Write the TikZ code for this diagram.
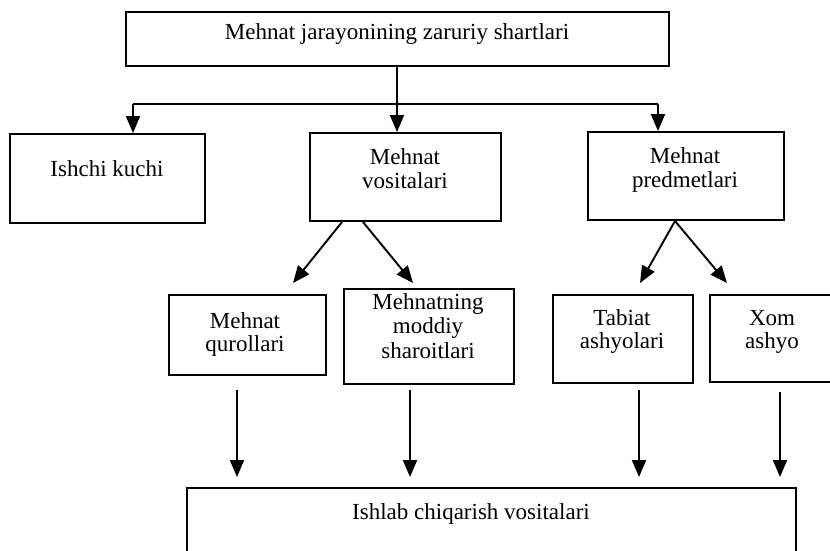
\documentclass[tikz,border=0pt]{standalone}
\usepackage{fontspec}
\setmainfont{Liberation Serif}
\usetikzlibrary{arrows.meta}
\begin{document}
\begin{tikzpicture}[x=1pt,y=-1pt,
  bx/.style={draw,line width=2pt,inner sep=0pt,anchor=north west},
  tx/.style={anchor=base,inner sep=0pt,font=\fontsize{23}{25}\selectfont},
  ln/.style={line width=1.9pt},
  arr/.style={line width=1.9pt,-{Triangle[length=17pt,width=14pt]}}]
\useasboundingbox (0,0) rectangle (830,550);
\clip (0,0) rectangle (830,550);
% boxes
\node[bx,minimum width=543pt,minimum height=54pt] (top) at (125,11) {};
\node[bx,minimum width=195pt,minimum height=89pt] (ish) at (9,133) {};
\node[bx,minimum width=191pt,minimum height=88pt] (vos) at (309,132) {};
\node[bx,minimum width=196pt,minimum height=88pt] (pred) at (587,131) {};
\node[bx,minimum width=157pt,minimum height=80pt] (qur) at (168,294) {};
\node[bx,minimum width=170pt,minimum height=95pt] (mod) at (343,288) {};
\node[bx,minimum width=140pt,minimum height=88pt] (tab) at (552,294) {};
\node[bx,minimum width=140pt,minimum height=87pt] (xom) at (709,294) {};
\node[bx,minimum width=609pt,minimum height=90pt] (bot) at (186,487) {};
% texts
\node[tx] (t1) at (397,39) {Mehnat jarayonining zaruriy shartlari};
\node[tx] (t2) at (107,176) {Ishchi kuchi};
\node[tx] (t3a) at (405,164) {Mehnat};
\node[tx] (t3b) at (405,188) {vositalari};
\node[tx] (t4a) at (685,163) {Mehnat};
\node[tx] (t4b) at (685,187) {predmetlari};
\node[tx] (t5a) at (245,328) {Mehnat};
\node[tx] (t5b) at (245,351) {qurollari};
\node[tx] (t6a) at (428,309) {Mehnatning};
\node[tx] (t6b) at (428,333) {moddiy};
\node[tx] (t6c) at (428,358) {sharoitlari};
\node[tx] (t7a) at (622,325) {Tabiat};
\node[tx] (t7b) at (622,348) {ashyolari};
\node[tx] (t8a) at (772,325) {Xom};
\node[tx] (t8b) at (772,348) {ashyo};
\node[tx] (t9) at (471,519) {Ishlab chiqarish vositalari};
% top connectors
\coordinate (jl) at (133,104);
\coordinate (jr) at (658,104);
\draw[ln] (jl) -- (jr);
\draw[arr] (top.south -| 397,0) -- (397,0 |- vos.north);
\draw[arr] (jl) -- (jl |- ish.north);
\draw[arr] (jr) -- (jr |- pred.north);
% diagonal arrows
\draw[arr] ([xshift=33pt]vos.south west) -- ([xshift=125pt,yshift=11pt]qur.north west);
\draw[arr] ([xshift=54pt]vos.south west) -- ([xshift=70pt,yshift=5pt]mod.north west);
\draw[arr] ([xshift=88pt]pred.south west) -- ([xshift=88pt,yshift=11pt]tab.north west);
\draw[arr] ([xshift=88pt]pred.south west) -- ([xshift=18pt,yshift=11pt]xom.north west);
% vertical arrows
\draw[arr] ([xshift=69pt,yshift=-14pt]qur.south west) -- ([xshift=51pt,yshift=10pt]bot.north west);
\draw[arr] ([xshift=67pt,yshift=-5pt]mod.south west) -- ([xshift=224pt,yshift=10pt]bot.north west);
\draw[arr] ([xshift=87pt,yshift=-6pt]tab.south west) -- ([xshift=453pt,yshift=10pt]bot.north west);
\draw[arr] ([xshift=71pt,yshift=-9pt]xom.south west) -- ([xshift=594pt,yshift=10pt]bot.north west);
\end{tikzpicture}
\end{document}
